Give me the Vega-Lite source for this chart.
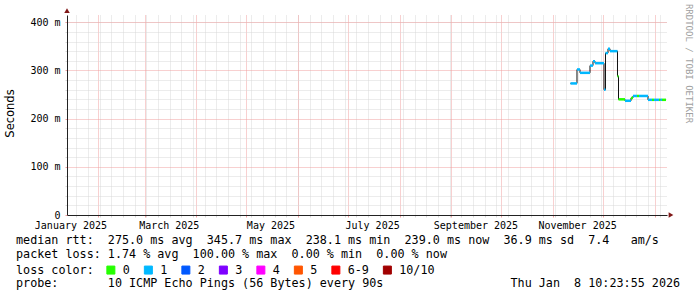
{
  "$schema": "https://vega.github.io/schema/vega-lite/v6.json",
  "width": 600,
  "height": 200,
  "autosize": {"type": "none"},
  "padding": {"left": 67, "top": 15, "right": 30, "bottom": 82},
  "background": "#ffffff",
  "config": {"view": {"stroke": null}},
  "title": {
    "text": [
      "median\u00a0rtt:\u00a0\u00a0275.0\u00a0ms\u00a0avg\u00a0\u00a0345.7\u00a0ms\u00a0max\u00a0\u00a0238.1\u00a0ms\u00a0min\u00a0\u00a0239.0\u00a0ms\u00a0now\u00a0\u00a036.9\u00a0ms\u00a0sd\u00a0\u00a07.4\u00a0\u00a0\u00a0am/s",
      "packet\u00a0loss:\u00a01.74\u00a0%\u00a0avg\u00a0\u00a0100.00\u00a0%\u00a0max\u00a0\u00a00.00\u00a0%\u00a0min\u00a0\u00a00.00\u00a0%\u00a0now"
    ],
    "subtitle": "probe:\u00a0\u00a0\u00a0\u00a0\u00a0\u00a0\u00a010\u00a0ICMP\u00a0Echo\u00a0Pings\u00a0(56\u00a0Bytes)\u00a0every\u00a090s\u00a0\u00a0\u00a0\u00a0\u00a0\u00a0\u00a0\u00a0\u00a0\u00a0\u00a0\u00a0\u00a0\u00a0\u00a0\u00a0\u00a0\u00a0Thu\u00a0Jan\u00a0\u00a08\u00a010:23:55\u00a02026",
    "orient": "bottom",
    "anchor": "start",
    "frame": "group",
    "font": "DejaVu Sans Mono",
    "fontSize": 11.74,
    "fontWeight": "normal",
    "color": "#000000",
    "lineHeight": 14,
    "subtitleFont": "DejaVu Sans Mono",
    "subtitleFontSize": 11.74,
    "subtitleFontWeight": "normal",
    "subtitleColor": "#000000",
    "subtitleLineHeight": 14,
    "subtitlePadding": 17,
    "offset": 0,
    "dx": -51,
    "dy": -33,
    "baseline": "alphabetic"
  },
  "data": {
    "values": [
      {"start": "2025-11-11T12:45:00Z", "end": "2025-11-15T10:20:00Z", "rtt": 273, "loss": "1"},
      {"start": "2025-11-15T10:20:00Z", "end": "2025-11-17T05:30:00Z", "rtt": 302, "loss": "1"},
      {"start": "2025-11-17T05:30:00Z", "end": "2025-11-23T05:30:00Z", "rtt": 295, "loss": "1"},
      {"start": "2025-11-23T05:30:00Z", "end": "2025-11-25T00:45:00Z", "rtt": 310, "loss": "1"},
      {"start": "2025-11-25T00:45:00Z", "end": "2025-11-26T05:30:00Z", "rtt": 319, "loss": "1"},
      {"start": "2025-11-26T05:30:00Z", "end": "2025-12-01T15:00:00Z", "rtt": 315, "loss": "1"},
      {"start": "2025-12-01T15:00:00Z", "end": "2025-12-02T12:45:00Z", "rtt": 260, "loss": "1"},
      {"start": "2025-12-02T12:45:00Z", "end": "2025-12-04T00:45:00Z", "rtt": 336, "loss": "1"},
      {"start": "2025-12-04T00:45:00Z", "end": "2025-12-05T05:30:00Z", "rtt": 345, "loss": "1"},
      {"start": "2025-12-05T05:30:00Z", "end": "2025-12-09T17:30:00Z", "rtt": 340, "loss": "1"},
      {"start": "2025-12-09T17:30:00Z", "end": "2025-12-10T08:00:00Z", "rtt": 288, "loss": "0"},
      {"start": "2025-12-10T08:00:00Z", "end": "2025-12-14T05:30:00Z", "rtt": 240, "loss": "0"},
      {"start": "2025-12-14T05:30:00Z", "end": "2025-12-17T20:00:00Z", "rtt": 237, "loss": "1"},
      {"start": "2025-12-17T20:00:00Z", "end": "2025-12-19T00:45:00Z", "rtt": 243, "loss": "0"},
      {"start": "2025-12-19T00:45:00Z", "end": "2025-12-21T10:20:00Z", "rtt": 247, "loss": "1"},
      {"start": "2025-12-21T10:20:00Z", "end": "2025-12-22T15:00:00Z", "rtt": 247, "loss": "0"},
      {"start": "2025-12-22T15:00:00Z", "end": "2025-12-28T00:45:00Z", "rtt": 247, "loss": "1"},
      {"start": "2025-12-28T00:45:00Z", "end": "2025-12-30T10:20:00Z", "rtt": 239, "loss": "1"},
      {"start": "2025-12-30T10:20:00Z", "end": "2025-12-31T15:00:00Z", "rtt": 239, "loss": "0"},
      {"start": "2025-12-31T15:00:00Z", "end": "2026-01-03T15:00:00Z", "rtt": 239, "loss": "1"},
      {"start": "2026-01-03T15:00:00Z", "end": "2026-01-04T12:45:00Z", "rtt": 239, "loss": "0"},
      {"start": "2026-01-04T12:45:00Z", "end": "2026-01-05T10:20:00Z", "rtt": 239, "loss": "1"},
      {"start": "2026-01-05T10:20:00Z", "end": "2026-01-07T20:00:00Z", "rtt": 239, "loss": "0"}
    ]
  },
  "resolve": {"axis": {"x": "independent", "y": "independent"}},
  "layer": [
    {
      "mark": {"type": "line", "interpolate": "step-after", "color": "#111111", "strokeWidth": 1},
      "encoding": {
        "x": {
          "field": "start", "type": "temporal",
          "scale": {"type": "utc", "domain": [
            {"year": 2025, "month": 1, "date": 13, "hours": 10, "minutes": 23, "seconds": 55, "utc": true},
            {"year": 2026, "month": 1, "date": 8, "hours": 10, "minutes": 23, "seconds": 55, "utc": true}
          ]},
          "axis": {
            "orient": "bottom", "title": null, "labels": false, "domain": false,
            "grid": true, "gridColor": "#d8d8d8", "gridDash": [1, 1], "gridWidth": 1,
            "ticks": true, "tickColor": "#d8d8d8", "tickSize": 2,
            "tickCount": {"interval": "week", "step": 1}
          }
        },
        "y": {
          "field": "rtt", "type": "quantitative",
          "scale": {"domain": [0, 415], "nice": false, "zero": true},
          "axis": {
            "orient": "left", "title": null, "labels": false, "domain": false,
            "grid": true, "gridColor": "#d8d8d8", "gridDash": [1, 1],
            "ticks": true, "tickColor": "#d8d8d8", "tickSize": 2,
            "values": [20, 40, 60, 80, 120, 140, 160, 180, 220, 240, 260, 280, 320, 340, 360, 380, 400]
          }
        }
      }
    },
    {
      "mark": {"type": "rule", "strokeWidth": 2.5, "strokeCap": "butt"},
      "encoding": {
        "x": {
          "field": "start", "type": "temporal",
          "axis": {
            "orient": "bottom", "title": null, "labels": false,
            "domain": true, "domainColor": "#222222", "domainWidth": 1,
            "grid": true, "gridColor": "#f0a0a0", "gridDash": [1, 1],
            "ticks": true, "tickColor": "#f0a0a0", "tickSize": 2,
            "tickCount": {"interval": "month", "step": 1}
          }
        },
        "x2": {"field": "end"},
        "y": {
          "field": "rtt", "type": "quantitative",
          "axis": {
            "orient": "left",
            "values": [0, 100, 200, 300, 400],
            "labelExpr": "datum.value == 0 ? '0\u00a0\u00a0' : datum.value + '\u00a0m'",
            "labelFont": "DejaVu Sans Mono", "labelFontSize": 10, "labelColor": "#000000",
            "labelPadding": 5,
            "grid": true, "gridColor": "#f0a0a0", "gridDash": [1, 1],
            "ticks": true, "tickColor": "#f0a0a0", "tickSize": 2,
            "domain": true, "domainColor": "#222222",
            "title": "Seconds", "titleFont": "DejaVu Sans", "titleFontSize": 11.5,
            "titleFontWeight": "normal", "titleColor": "#000000",
            "titleAngle": 270, "titleX": -56.5, "titleY": 98,
            "titleAlign": "center", "titleBaseline": "middle"
          }
        },
        "color": {
          "field": "loss", "type": "nominal",
          "scale": {
            "domain": ["0", "1", "2", "3", "4", "5", "6-9", "10/10"],
            "range": ["#26ff00", "#00b8ff", "#0059ff", "#7e00ff", "#ff00ff", "#ff5500", "#ff0000", "#a10000"]
          },
          "legend": {
            "orient": "none", "legendX": -51, "legendY": 249,
            "direction": "horizontal",
            "title": "loss color:", "titleOrient": "left",
            "titleFont": "DejaVu Sans Mono", "titleFontSize": 11.74, "titleFontWeight": "normal",
            "titleColor": "#000000", "titlePadding": 11,
            "titleAnchor": "middle", "titleBaseline": "middle",
            "labelFont": "DejaVu Sans Mono", "labelFontSize": 11.74, "labelColor": "#000000",
            "labelOffset": 6, "columnPadding": 11.5,
            "symbolType": "square", "symbolSize": 64,
            "padding": 0, "offset": 0,
            "encode": {
              "symbols": {
                "update": {
                  "fill": {"scale": "color", "field": "value"},
                  "stroke": {"value": "#000000"},
                  "strokeWidth": {"value": 1},
                  "opacity": {"value": 1}
                }
              }
            }
          }
        }
      }
    },
    {
      "data": {"values": [{"arrow": "y"}]},
      "mark": {"type": "point", "shape": "triangle-up", "filled": true, "size": 30, "color": "#801818", "opacity": 1},
      "encoding": {
        "x": {
          "datum": {"year": 2025, "month": 1, "date": 13, "hours": 10, "minutes": 23, "seconds": 55, "utc": true},
          "type": "temporal",
          "axis": {
            "orient": "bottom", "title": null, "grid": false, "ticks": false, "domain": false,
            "values": [
              {"year": 2025, "month": 1, "date": 15, "hours": 12, "utc": true},
              {"year": 2025, "month": 3, "date": 15, "hours": 12, "utc": true},
              {"year": 2025, "month": 5, "date": 15, "hours": 12, "utc": true},
              {"year": 2025, "month": 7, "date": 15, "hours": 12, "utc": true},
              {"year": 2025, "month": 9, "date": 15, "hours": 12, "utc": true},
              {"year": 2025, "month": 11, "date": 15, "hours": 12, "utc": true}
            ],
            "labelExpr": "utcFormat(datum.value, '%B %Y')",
            "labelFont": "DejaVu Sans Mono", "labelFontSize": 10, "labelColor": "#000000",
            "labelPadding": 5, "labelOverlap": false, "labelFlush": false
          }
        },
        "y": {"datum": 424, "type": "quantitative", "axis": null}
      }
    },
    {
      "data": {"values": [{"arrow": "x"}]},
      "mark": {"type": "point", "shape": "triangle-right", "filled": true, "size": 30, "color": "#801818", "opacity": 1},
      "encoding": {
        "x": {
          "datum": {"year": 2026, "month": 1, "date": 10, "hours": 20, "utc": true},
          "type": "temporal",
          "axis": null
        },
        "y": {
          "datum": 0, "type": "quantitative",
          "axis": {
            "orient": "right", "labels": false, "ticks": false, "domain": false, "grid": false,
            "title": "RRDTOOL / TOBI OETIKER",
            "titleFont": "DejaVu Sans Mono", "titleFontSize": 9, "titleFontWeight": "normal",
            "titleColor": "#a0a0a0", "titleAngle": 90, "titleX": 21.5, "titleY": 48,
            "titleAlign": "center", "titleBaseline": "middle"
          }
        }
      }
    }
  ]
}
